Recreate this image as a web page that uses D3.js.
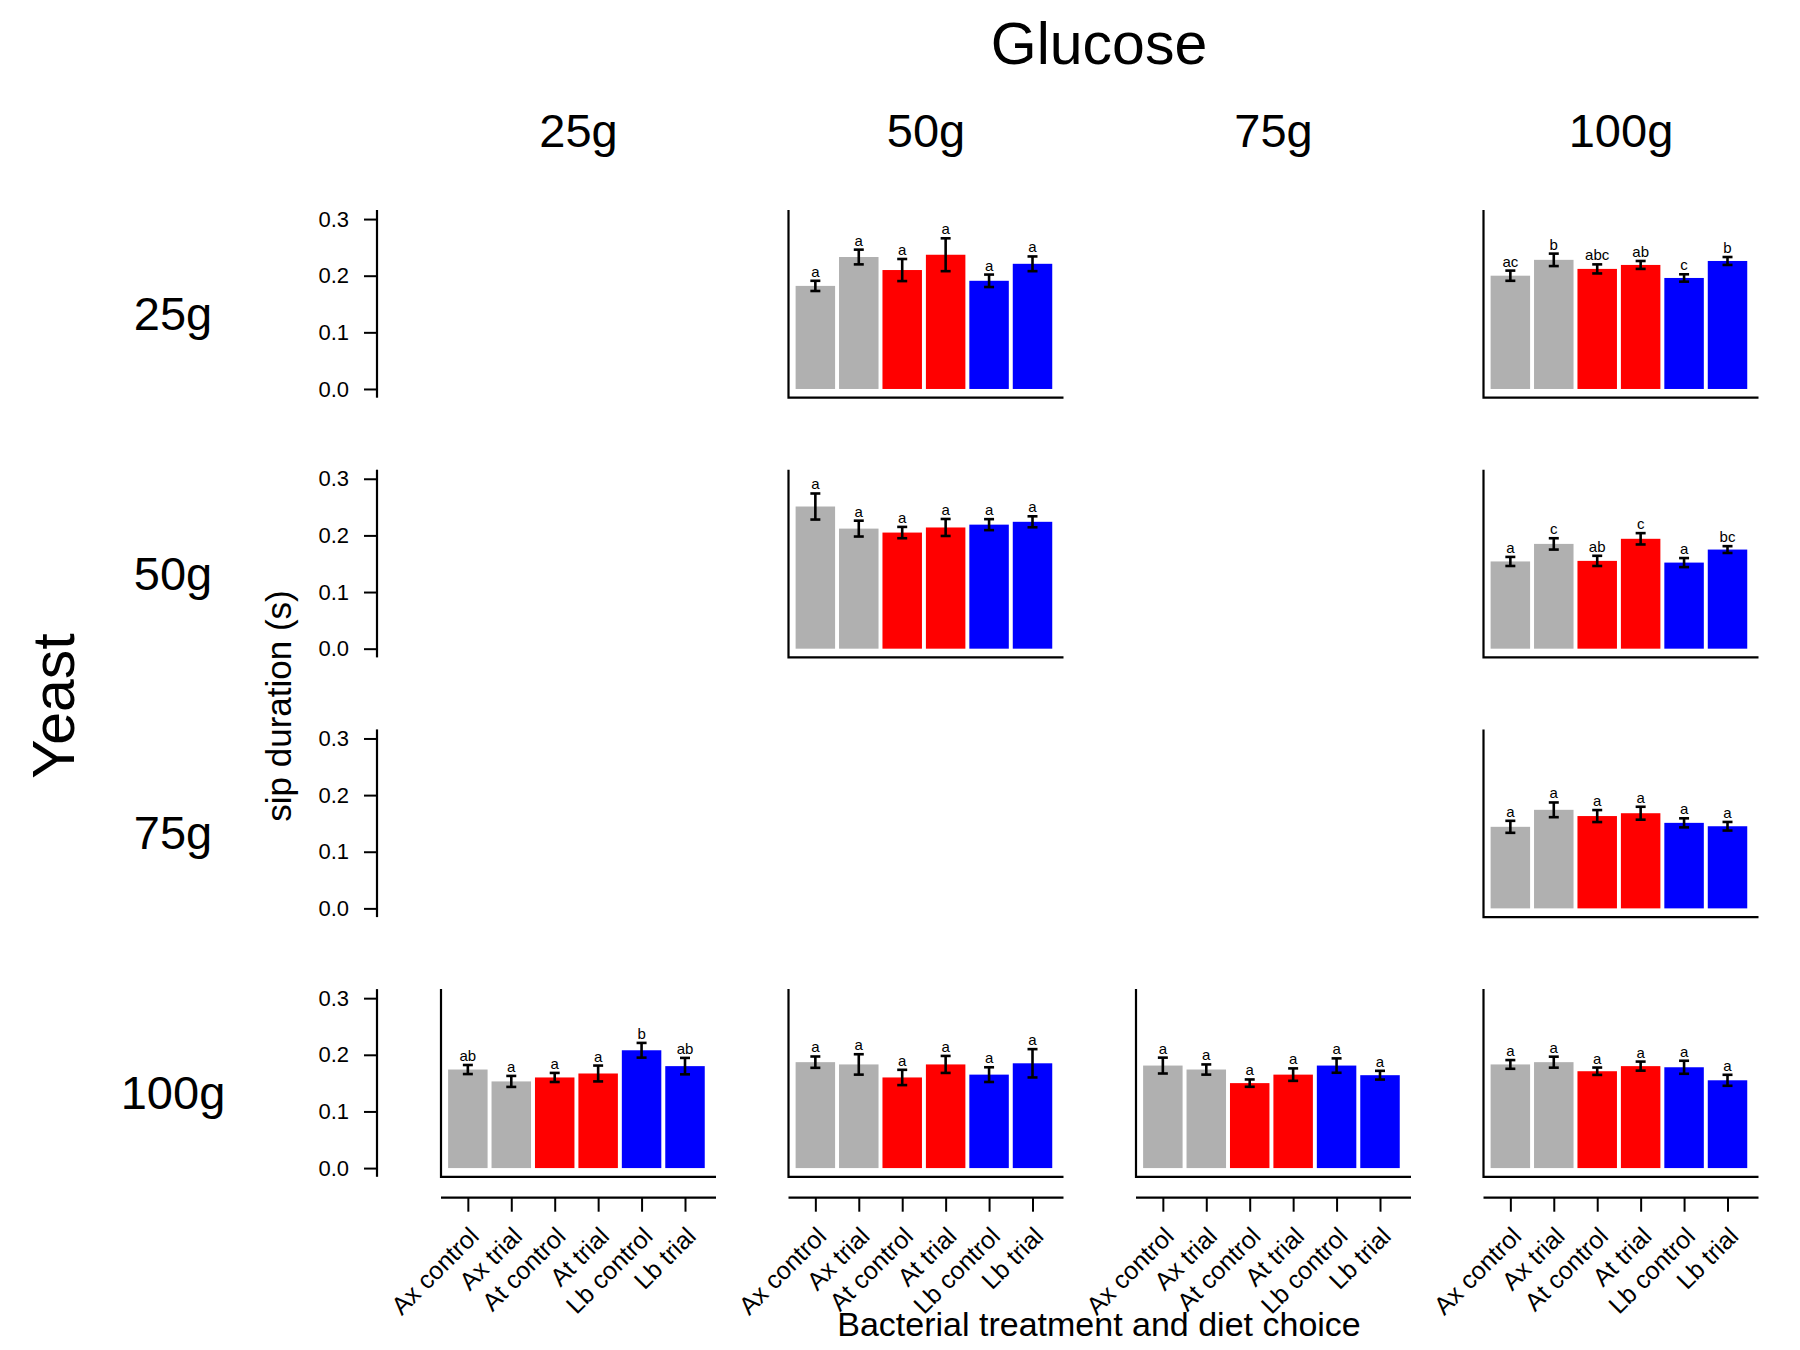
<!DOCTYPE html>
<html>
<head>
<meta charset="utf-8">
<script src="https://cdn.jsdelivr.net/npm/d3@7"></script>
<style>
  body { margin: 0; background: #fff; }
  text { font-family: "Liberation Sans", Arial, Helvetica, sans-serif; fill: #000; }
</style>
</head>
<body>
<svg id="chart" width="1800" height="1350"></svg>
<script>
// treatments on the x axis of every panel
const categories = ["Ax control", "Ax trial", "At control", "At trial", "Lb control", "Lb trial"];
const barColors = ["#b0b0b0", "#b0b0b0", "#ff0000", "#ff0000", "#0000ff", "#0000ff"];
const glucoseLevels = ["25g", "50g", "75g", "100g"];
const yeastLevels = ["25g", "50g", "75g", "100g"];
const yTicks = [0.0, 0.1, 0.2, 0.3];

// which diet each panel is (row = yeast, column = glucose)
const panelYeast   = [0, 0, 1, 1, 2, 3, 3, 3, 3];
const panelGlucose = [1, 3, 1, 3, 3, 0, 1, 2, 3];

// mean sip duration (s)
const panelMeans = [
  [0.182, 0.233, 0.210, 0.237, 0.191, 0.221],
  [0.200, 0.228, 0.212, 0.219, 0.196, 0.226],
  [0.251, 0.212, 0.205, 0.214, 0.219, 0.224],
  [0.154, 0.185, 0.155, 0.194, 0.152, 0.175],
  [0.144, 0.174, 0.163, 0.168, 0.151, 0.145],
  [0.174, 0.153, 0.160, 0.167, 0.208, 0.180],
  [0.187, 0.183, 0.160, 0.183, 0.165, 0.185],
  [0.181, 0.174, 0.150, 0.165, 0.181, 0.164],
  [0.183, 0.187, 0.171, 0.180, 0.178, 0.155]
];

// standard errors
const panelErrors = [
  [0.009, 0.013, 0.0195, 0.029, 0.011, 0.013],
  [0.009, 0.011, 0.008, 0.007, 0.0065, 0.007],
  [0.023, 0.014, 0.010, 0.015, 0.0097, 0.0097],
  [0.008, 0.010, 0.009, 0.010, 0.008, 0.006],
  [0.0106, 0.013, 0.0106, 0.0114, 0.008, 0.0076],
  [0.008, 0.0097, 0.008, 0.014, 0.013, 0.0145],
  [0.010, 0.018, 0.0135, 0.015, 0.013, 0.025],
  [0.014, 0.009, 0.0065, 0.011, 0.0127, 0.0077],
  [0.0077, 0.0097, 0.0065, 0.008, 0.0115, 0.0097]
];

// significance letters
const panelLetters = [
  ["a", "a", "a", "a", "a", "a"],
  ["ac", "b", "abc", "ab", "c", "b"],
  ["a", "a", "a", "a", "a", "a"],
  ["a", "c", "ab", "c", "a", "bc"],
  ["a", "a", "a", "a", "a", "a"],
  ["ab", "a", "a", "a", "b", "ab"],
  ["a", "a", "a", "a", "a", "a"],
  ["a", "a", "a", "a", "a", "a"],
  ["a", "a", "a", "a", "a", "a"]
];

const svg = d3.select("#chart");

// grid geometry
const colLeft = c => 441 + 347.5 * c;
const panelW = 275;
const rowTop = r => 210 + 259.7 * r;
const panelH = 187.7;

// bar slots like base R barplot: width 1, space 0.1
const barLeft = i => 0.1 + 1.1 * i;
const barMid = i => barLeft(i) + 0.5;

function xScale(c) {
  return d3.scaleLinear().domain([-0.08, 6.885]).range([colLeft(c), colLeft(c) + panelW]);
}
function yScale(r) {
  return d3.scaleLinear().domain([-0.0154, 0.316]).range([rowTop(r) + panelH, rowTop(r)]);
}

// titles
svg.append("text").attr("x", 1099).attr("y", 64)
  .attr("text-anchor", "middle").style("font-size", "59px").text("Glucose");

glucoseLevels.forEach((g, c) => {
  svg.append("text").attr("x", colLeft(c) + panelW / 2).attr("y", 147)
    .attr("text-anchor", "middle").style("font-size", "47px").text(g);
});

yeastLevels.forEach((yl, r) => {
  svg.append("text").attr("x", 173).attr("y", 330 + 259.7 * r)
    .attr("text-anchor", "middle").style("font-size", "47px").text(yl);
});

svg.append("text").attr("transform", "translate(74,706) rotate(-90)")
  .attr("text-anchor", "middle").style("font-size", "59px").text("Yeast");

svg.append("text").attr("transform", "translate(291,706) rotate(-90)")
  .attr("text-anchor", "middle").style("font-size", "35px").text("sip duration (s)");

svg.append("text").attr("x", 1099).attr("y", 1336)
  .attr("text-anchor", "middle").style("font-size", "34px").text("Bacterial treatment and diet choice");

// y axes in the first column, one per row
yeastLevels.forEach((yl, r) => {
  const y = yScale(r);
  const ax = svg.append("g").attr("transform", "translate(377,0)")
    .call(d3.axisLeft(y).tickValues(yTicks).tickFormat(d3.format(".1f")).tickSize(13).tickPadding(15));
  ax.select(".domain").attr("d", `M0,${rowTop(r)}V${rowTop(r) + panelH}`)
    .attr("stroke-width", 2.2);
  ax.selectAll(".tick line").attr("stroke-width", 2);
  ax.selectAll(".tick text").style("font-size", "22px")
    .style("font-family", '"Liberation Sans", Arial, sans-serif');
});

// x axes below the last row
glucoseLevels.forEach((g, c) => {
  const x = xScale(c);
  const ax = svg.append("g").attr("transform", "translate(0,1197.7)")
    .call(d3.axisBottom(x).tickValues(categories.map((d, i) => barMid(i)))
      .tickFormat((d, i) => categories[i]).tickSize(14));
  ax.select(".domain").attr("d", `M${colLeft(c)},0H${colLeft(c) + panelW}`)
    .attr("stroke-width", 2.2);
  ax.selectAll(".tick line").attr("stroke-width", 2);
  ax.selectAll(".tick text")
    .attr("y", 0).attr("dy", null)
    .attr("text-anchor", "end")
    .attr("transform", "translate(12,40) rotate(-45)")
    .style("font-size", "25px")
    .style("font-family", '"Liberation Sans", Arial, sans-serif');
});

// panels
panelMeans.forEach((means, p) => {
  const r = panelYeast[p], c = panelGlucose[p];
  const x = xScale(c), y = yScale(r);
  const g = svg.append("g");

  g.selectAll("rect").data(means).join("rect")
    .attr("x", (d, i) => x(barLeft(i)))
    .attr("width", (d, i) => x(barLeft(i) + 1) - x(barLeft(i)))
    .attr("y", d => y(d))
    .attr("height", d => y(0) - y(d))
    .attr("fill", (d, i) => barColors[i]);

  const errs = panelErrors[p];
  const eb = g.selectAll("g.err").data(means).join("g").attr("class", "err")
    .attr("stroke", "#000").attr("stroke-width", 2.6);
  eb.append("line")
    .attr("x1", (d, i) => x(barMid(i))).attr("x2", (d, i) => x(barMid(i)))
    .attr("y1", (d, i) => y(d - errs[i])).attr("y2", (d, i) => y(d + errs[i]));
  eb.append("line")
    .attr("x1", (d, i) => x(barMid(i)) - 5).attr("x2", (d, i) => x(barMid(i)) + 5)
    .attr("y1", (d, i) => y(d + errs[i])).attr("y2", (d, i) => y(d + errs[i]));
  eb.append("line")
    .attr("x1", (d, i) => x(barMid(i)) - 5).attr("x2", (d, i) => x(barMid(i)) + 5)
    .attr("y1", (d, i) => y(d - errs[i])).attr("y2", (d, i) => y(d - errs[i]));

  g.selectAll("text.letter").data(panelLetters[p]).join("text").attr("class", "letter")
    .attr("x", (d, i) => x(barMid(i)))
    .attr("y", (d, i) => y(means[i] + errs[i]) - 4)
    .attr("text-anchor", "middle").style("font-size", "15px").text(d => d);

  // L-shaped frame
  g.append("path")
    .attr("d", `M${colLeft(c)},${rowTop(r)}V${rowTop(r) + panelH}H${colLeft(c) + panelW}`)
    .attr("fill", "none").attr("stroke", "#000").attr("stroke-width", 2.2);
});
</script>
</body>
</html>
